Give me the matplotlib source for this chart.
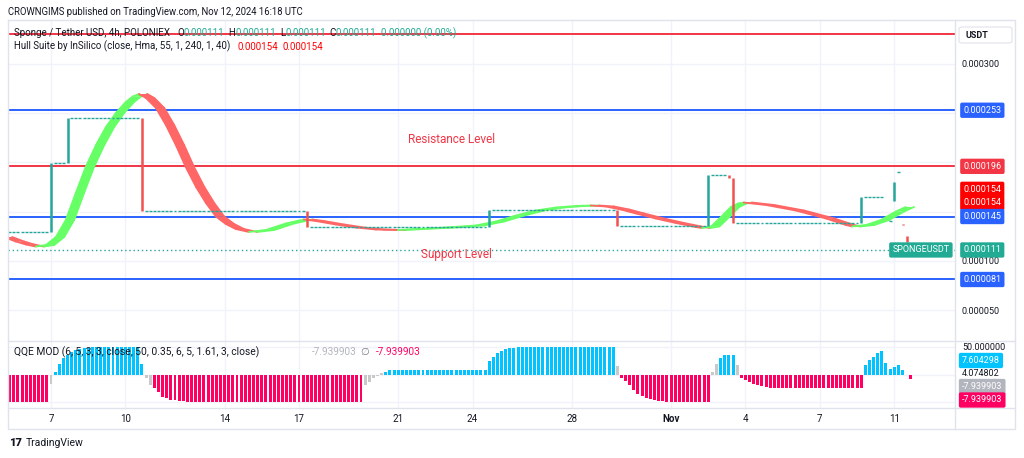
import numpy as np
import matplotlib.pyplot as plt
from matplotlib.lines import Line2D
from matplotlib.patches import FancyBboxPatch

plt.rcParams['font.family'] = ['Roboto', 'DejaVu Sans']

W, H = 1024, 458
UP, DOWN = '#26a69a', '#ef5350'
HULL_UP, HULL_DOWN = '#66ff66', '#ff6666'
INK = '#131722'
BORDER = '#e0e3eb'
GRID = '#f0f3fa'
RED, BLUE, TEAL = '#f23645', '#2962ff', '#22ab94'
QQE_UP, QQE_DOWN, QQE_GRAY = '#00c3ff', '#ff0062', '#c9c9c9'

# x counts 4h bars from 7 Oct 00:00, prices are in millionths of USDT
tick_bars = [0, 18, 42, 60, 84, 102, 126, 150, 168, 186, 204]
tick_labels = ['7', '10', '14', '17', '21', '24', '28', 'Nov', '4', '7', '11']

first_bar = -10
start_close = 129.0
candle_bar = [0, 4, 22, 62, 106, 137, 159, 164, 165, 196, 204, 206, 207]
candle_open = [129, 199, 245, 151, 134, 151.5, 135, 187, 184, 138, 161, 137, 125]
candle_close = [199, 245, 151, 134, 151.5, 135, 187, 184, 138, 164.5, 180, 136, 119]
flat_until = 201
late_flat_bar = [203, 205]
late_flat_price = [140.5, 190]
last_price = 111

hma_bar = [-10.4, -7.5, -5.1, -2.7, -0.2, 2.2, 4.6, 7.0, 9.4, 11.9, 14.3, 16.7,
           19.1, 20.8, 22.3, 24.0, 26.4, 28.8, 31.2, 33.6, 36.1, 38.5, 40.9,
           43.3, 45.7, 48.9, 53.0, 57.8, 62.2, 65.1, 69.9, 74.8, 79.6, 84.9,
           89.3, 96.5, 103.8, 108.6, 113.5, 118.3, 123.2, 128.0, 131.6, 135.2,
           138.9, 142.5, 147.3, 152.2, 157.0, 158.5, 160.7, 163.1, 165.5, 167.2,
           168.6, 174.0, 181.2, 188.5, 193.3, 194.8, 198.2, 201.8, 205.4, 207.8]
hma_price = [124.2, 119.6, 116.6, 114.5, 116.1, 124.2, 141.5, 168.9, 195.3, 217.7,
             236.0, 250.2, 261.4, 267.0, 269.5, 265.4, 255.3, 238.0, 217.7, 195.3,
             175.0, 158.7, 145.0, 137.4, 132.3, 129.3, 131.3, 137.9, 142.0, 140.4,
             136.9, 133.8, 131.8, 131.3, 132.3, 133.8, 135.9, 139.9, 146.0, 151.1,
             154.2, 155.7, 156.2, 155.2, 152.1, 148.1, 143.0, 138.4, 134.3, 133.3,
             134.9, 144.5, 154.7, 158.2, 159.2, 156.7, 151.1, 143.0, 136.4, 134.9,
             136.4, 141.5, 150.1, 154.7]

red_levels = [330.5, 196]
blue_levels = [253, 145, 81]
price_ticks = [50, 100, 150, 200, 250, 300]
hidden_ticks = [150, 250]   # covered by the price tags on the reference

qqe_first = -10
qqe_vals = ([-50] * 10
            + [-18, 5, 20, 30, 36, 42, 45, 47, 48, 49]
            + [50] * 12
            + [19, -6, -19, -25, -33, -41, -44, -46, -47, -48, -49]
            + [-50] * 43
            + [-19, -13, -7, -2, 2]
            + [5] + [9] * 24
            + [25, 33, 39, 43, 46, 48, 49]
            + [50] * 24
            + [16]
            + [-6, -12, -19, -29, -35, -40, -43, -45, -47, -48, -49]
            + [-50] * 11
            + [5, 20, 30, 36, 36, 36, 17]
            + [-6, -10, -13, -18, -19, -21, -23, -24]
            + [-25] * 22
            + [17, 26, 33, 40, 44, 22, 11, 14, 18, 8]
            + [0, -7.939903])
qqe_gray = [0, 23, 24, 76, 77, 78, 79, 80, 137, 160, 161, 166]


def fx(px):
    return px / W


def fy(py):
    return 1 - py / H


fig = plt.figure(figsize=(W / 100, H / 100), dpi=100)
ax = fig.add_axes([fx(8), fy(341), fx(955) - fx(8), fy(20) - fy(341)])
axq = fig.add_axes([fx(8), fy(408), fx(955) - fx(8), fy(341) - fy(408)], sharex=ax)

for a in (ax, axq):
    for s in a.spines.values():
        s.set_visible(False)
    a.set_xticks(tick_bars)
    a.grid(True, color=GRID, lw=1, zorder=0)
    a.set_axisbelow(True)

ax.set_xlim(-10.4, 218.7)
ax.set_ylim(18.5, 344.7)
ax.set_yticks(price_ticks)
ax.set_yticklabels(['' if v in hidden_ticks else f'{v * 1e-6:.6f}' for v in price_ticks])
ax.yaxis.set_ticks_position('right')
ax.tick_params(axis='y', length=0, pad=5, labelsize=6.5, labelcolor=INK)
ax.tick_params(axis='x', length=0, labelbottom=False)

axq.set_ylim(-61.6, 61.6)
axq.set_yticks([-50, 0, 50])
axq.tick_params(axis='y', length=0, labelleft=False, labelright=False)
axq.set_xticklabels(tick_labels)
axq.tick_params(axis='x', length=0, pad=4, labelsize=7, labelcolor=INK)
for t in axq.get_xticklabels():
    if t.get_text() == 'Nov':
        t.set_fontweight('bold')

# levels
for v in red_levels:
    ax.axhline(v, color=RED, lw=1.4, zorder=2)
for v in blue_levels:
    ax.axhline(v, color=BLUE, lw=1.4, zorder=2)
ax.axhline(last_price, color=UP, lw=1, ls=(0, (1, 2)), zorder=2)

ax.text(97, 222.8, 'Resistance Level', color=RED, fontsize=8.5, ha='center', va='center')
ax.text(98, 106.9, 'Support Level', color=RED, fontsize=8.5, ha='center', va='center')

# hull band
hx = np.array(hma_bar)
hy = np.array(hma_price)
for i in range(len(hx) - 1):
    col = HULL_UP if hy[i + 1] > hy[i] else HULL_DOWN
    ax.fill([hx[i] - 1, hx[i + 1] - 1, hx[i + 1] + 1, hx[i] + 1],
            [hy[i], hy[i + 1], hy[i + 1], hy[i]], color=col, lw=0, zorder=4)
    for d in (-1, 1):
        ax.plot([hx[i] + d, hx[i + 1] + d], [hy[i], hy[i + 1]], color=col, lw=1.3,
                solid_capstyle='round', zorder=4)

# candles
closes = dict(zip(candle_bar, candle_close))
flat_x, flat_y = [], []
level = start_close
for b in range(first_bar, flat_until + 1):
    if b in closes:
        level = closes[b]
    else:
        flat_x.append(b)
        flat_y.append(level)
flat_x += late_flat_bar
flat_y += late_flat_price
flat_x = np.array(flat_x)
ax.hlines(flat_y, flat_x - 0.35, flat_x + 0.35, color=UP, lw=1, zorder=5)
ccol = [UP if c >= o else DOWN for o, c in zip(candle_open, candle_close)]
ax.vlines(candle_bar, candle_open, candle_close, colors=ccol, lw=1.8, zorder=5)


def tag(axis, y, text, color, dy=0, size=6.5):
    axis.annotate(text, xy=(1.0, y), xycoords=('axes fraction', 'data'),
                  xytext=(6, dy), textcoords='offset points', ha='left', va='center',
                  color='white', fontsize=size, zorder=10, annotation_clip=False,
                  bbox=dict(boxstyle='round,pad=0.35,rounding_size=0.2', fc=color, ec='none'))


tag(ax, 253, '0.000253', BLUE)
tag(ax, 196, '0.000196', RED)
tag(ax, 154, '0.000154', '#ff0000', dy=13.2)
tag(ax, 154, '0.000154', '#ff0000', dy=3.6)
tag(ax, 145, '0.000145', BLUE)
tag(ax, 111, '0.000111', TEAL)
tag(ax, 81, '0.000081', BLUE)
ax.annotate('SPONGEUSDT', xy=(1.0, last_price), xycoords=('axes fraction', 'data'),
            xytext=(-4, 0), textcoords='offset points', ha='right', va='center',
            color='white', fontsize=6.5, zorder=10, annotation_clip=False,
            bbox=dict(boxstyle='round,pad=0.35,rounding_size=0.2', fc=TEAL, ec='none'))

# QQE histogram
qx = np.arange(qqe_first, qqe_first + len(qqe_vals))
qcol = [QQE_GRAY if b in qqe_gray else (QQE_UP if v >= 0 else QQE_DOWN)
        for b, v in zip(qx, qqe_vals)]
axq.bar(qx, qqe_vals, width=0.72, color=qcol, lw=0, zorder=3)

fig.text(fx(962), fy(347.5), '50.000000', fontsize=6.5, color=INK, va='center')
fig.text(fx(962), fy(373), '4.074802', fontsize=6.5, color=INK, va='center')
for y, txt, col in [(360.5, '7.604298', QQE_UP), (386.5, '-7.939903', '#b2b5be'),
                    (400, '-7.939903', QQE_DOWN)]:
    fig.text(fx(962), fy(y), txt, fontsize=6.5, color='white', va='center', zorder=10,
             bbox=dict(boxstyle='round,pad=0.35,rounding_size=0.2', fc=col, ec='none'))


# frame
def fline(xs, ys, **kw):
    fig.add_artist(Line2D([fx(x) for x in xs], [fy(y) for y in ys],
                          transform=fig.transFigure, color=BORDER, lw=1, **kw))


fline([8, 1015, 1015, 8, 8], [20, 20, 429, 429, 20])
fline([955, 955], [20, 429])
fline([8, 1015], [341, 341])
fline([8, 1015], [408, 408])

fig.patches.append(FancyBboxPatch((fx(959), fy(43)), fx(1012) - fx(959), fy(27) - fy(43),
                                  boxstyle='round,pad=0,rounding_size=0.004',
                                  transform=fig.transFigure, fc='white', ec=BORDER, lw=0.8))
fig.text(fx(965), fy(35), 'USDT', fontsize=6.5, color=INK, va='center', fontweight='bold')

# texts
fig.text(fx(8), fy(12), 'CROWNGIMS published on TradingView.com, Nov 12, 2024 16:18 UTC',
         fontsize=6.85, color=INK, va='center')

renderer = fig.canvas.get_renderer()


def seq_text(x0, y, parts, size=7.0):
    x = x0
    for s, c, gap in parts:
        t = fig.text(fx(x), fy(y), s, color=c, fontsize=size, va='center', zorder=6)
        x += t.get_window_extent(renderer=renderer).width + gap


seq_text(14, 33.3, [('Sponge / Tether USD, 4h, POLONIEX', INK, 7), ('O', INK, 0),
                    ('0.000111', TEAL, 4), ('H', INK, 0), ('0.000111', TEAL, 4),
                    ('L', INK, 0), ('0.000111', TEAL, 4), ('C', INK, 0),
                    ('0.000111', TEAL, 4), ('0.000000 (0.00%)', TEAL, 0)])
seq_text(14, 46.7, [('Hull Suite by InSilico (close, Hma, 55, 1, 240, 1, 40)', INK, 7),
                    ('0.000154', '#ff0000', 4), ('0.000154', '#ff0000', 0)])

fig.text(fx(14), fy(352), 'QQE MOD (6, 5, 3, 3, close, 50, 0.35, 6, 5, 1.61, 3, close)',
         fontsize=7.4, color=INK, va='center', zorder=6)
fig.text(fx(312), fy(352), '-7.939903', fontsize=7.2, color='#b2b5be', va='center', zorder=6)
fig.text(fx(360), fy(352), '\u2205', fontsize=7.2, color='#787b86', va='center', zorder=6)
fig.text(fx(376), fy(352), '-7.939903', fontsize=7.2, color=QQE_DOWN, va='center', zorder=6)

fig.text(fx(9), fy(443), '17', fontsize=8, fontweight='heavy', color=INK, va='center')
fig.text(fx(26), fy(443), 'TradingView', fontsize=7.5, color=INK, va='center')

fig.savefig('out.png', dpi=100, facecolor='white')
